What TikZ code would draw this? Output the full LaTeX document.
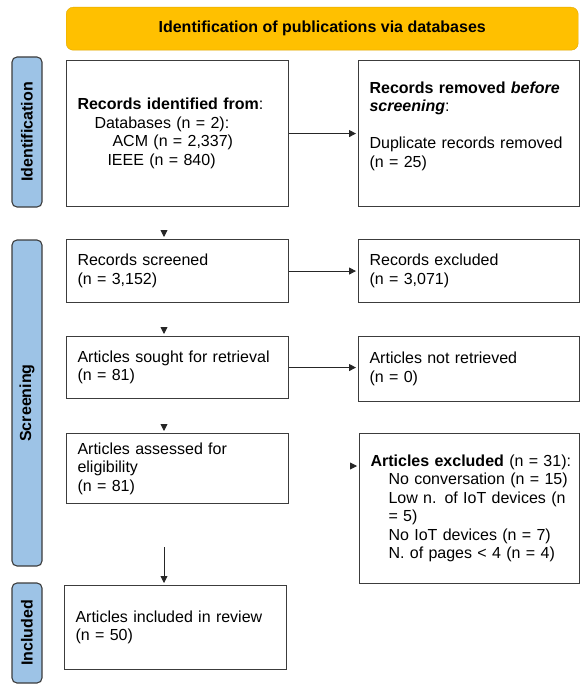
\documentclass[tikz,border=0pt]{standalone}
\usepackage{fontspec}
\setmainfont{Liberation Sans}
\usepackage{tikz}
\usetikzlibrary{arrows.meta}
\definecolor{bannerfill}{HTML}{FFC000}
\definecolor{bannerline}{HTML}{E0A800}
\definecolor{phasefill}{HTML}{9DC3E6}
\definecolor{boxline}{HTML}{3C3C3C}

\begin{document}
\begin{tikzpicture}[x=1pt, y=-1pt,
  txt/.style={font=\fontsize{16}{18.5}\selectfont, text=black},
  box/.style={txt, draw=boxline, line width=1.1pt, anchor=north west, inner xsep=11pt, inner ysep=0pt, align=left},
  phase/.style={font=\fontsize{16}{18.5}\selectfont\bfseries, draw=boxline, fill=phasefill, line width=1.1pt, rounded corners=5pt, rotate=90, minimum height=30pt, inner sep=0pt},
  tip/.style={-{Triangle[length=7pt,width=7pt]}, line width=0.9pt, draw=black!85, shorten >=2pt}]
\useasboundingbox (0,0) rectangle (582,685);
\node[txt, font=\fontsize{16}{18.5}\selectfont\bfseries, fill=bannerfill, draw=bannerline, rounded corners=7pt, minimum width=512pt, minimum height=43pt, inner sep=0pt, anchor=north west] (banner) at (66,7) {Identification of publications via databases};
\node[phase, minimum width=150pt] (pIdent) at (27,132) {Identification};
\node[phase, minimum width=326pt] (pScreen) at (27,403) {Screening};
\node[phase, minimum width=100pt] (pIncl) at (27,633) {Included};
\node[box, text width=200pt, minimum height=146pt] (rIdent) at (66,60) {\textbf{Records identified from}:\\\hspace*{17pt}Databases (n = 2):\\\hspace*{35pt}ACM (n = 2,337)\\\hspace*{30pt}IEEE (n = 840)};
\node[box, text width=199pt, minimum height=146pt] (rRemoved) at (358,60) {\textbf{Records removed \textit{before}}\\\textbf{\textit{screening}}:\\\mbox{}\\Duplicate records removed\\(n = 25)\\\mbox{}};
\node[box, text width=200pt, minimum height=63pt] (rScreen) at (66,239) {Records screened\\(n = 3,152)};
\node[box, text width=199pt, minimum height=63pt] (rExcl) at (358,239) {Records excluded\\(n = 3,071)};
\node[box, text width=200pt, minimum height=62pt] (rSought) at (66,336) {Articles sought for retrieval\\(n = 81)};
\node[box, text width=199pt, minimum height=65pt] (rNotRet) at (358,336) {Articles not retrieved\\(n = 0)};
\node[box, text width=200pt, minimum height=70pt] (rAssess) at (66,433) {Articles assessed for\\eligibility\\(n = 81)};
\node[box, text width=198pt, minimum height=150pt] (rArtExcl) at (359,433) {\mbox{\textbf{Articles excluded} (n = 31):}\\\hspace*{18pt}No conversation (n = 15)\\\hspace*{18pt}Low n. of IoT devices (n\\\hspace*{18pt}= 5)\\\hspace*{18pt}No IoT devices (n = 7)\\\hspace*{18pt}N. of pages < 4 (n = 4)};
\node[box, text width=200pt, minimum height=84pt] (rIncl) at (64,585) {Articles included in review\\(n = 50)};
\coordinate (hScreen) at (164,230);
\coordinate (hSought) at (164,327);
\coordinate (hAssess) at (164,424);
\coordinate (hArtExcl) at (350,466);
\coordinate (aIncl) at (164,547);
\draw[tip] (rIdent.east) -- (rRemoved.west);
\draw[tip] (rScreen.east) -- (rExcl.west);
\draw[tip] (rSought.east) -- (rSought.east -| rNotRet.west);
\draw[tip] (hScreen) -- (hScreen |- rScreen.north);
\draw[tip] (hSought) -- (hSought |- rSought.north);
\draw[tip] (hAssess) -- (hAssess |- rAssess.north);
\draw[tip] (hArtExcl) -- (hArtExcl -| rArtExcl.west);
\draw[tip] (aIncl) -- (aIncl |- rIncl.north);
\end{tikzpicture}
\end{document}
